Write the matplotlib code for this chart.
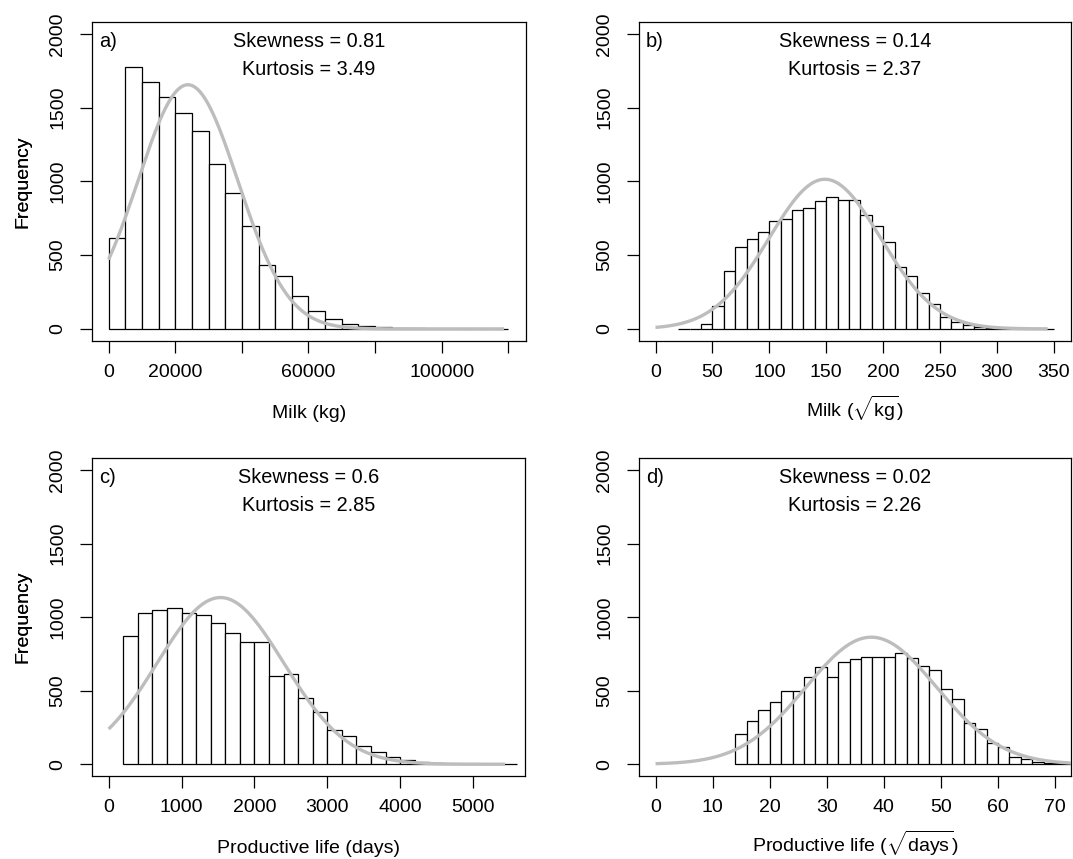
import numpy as np
import matplotlib.pyplot as plt

plt.rcParams['font.family'] = ['Liberation Sans', 'DejaVu Sans']
plt.rcParams['mathtext.fontset'] = 'custom'
plt.rcParams['mathtext.rm'] = 'Liberation Sans'
plt.rcParams['mathtext.it'] = 'Liberation Sans:italic'

# ===== DATA ===========================================
# a) milk, kg
milk_start, milk_width = 0, 5000
milk_counts = [615, 1775, 1671, 1570, 1462, 1342, 1119, 923, 696, 435, 356, 221,
               119, 65, 32, 20, 10, 5, 3, 2, 1, 1, 0, 1]
milk_mean, milk_sd, milk_max = 23800, 15000, 118700

# b) milk, sqrt(kg)
smilk_start, smilk_width = 20, 10
smilk_counts = [0, 0, 30, 158, 390, 552, 608, 660, 732, 748, 804, 822, 867, 894,
                876, 876, 775, 696, 586, 419, 360, 245, 167, 83, 50, 27, 15, 8,
                4, 2, 1, 1, 0]
smilk_mean, smilk_sd, smilk_max = 148.8, 49.0, 344.5

# c) productive life, days
life_start, life_width = 200, 200
life_counts = [875, 1031, 1050, 1065, 1031, 1013, 959, 895, 832, 832, 603, 612,
               451, 358, 233, 195, 125, 86, 52, 29, 14, 7, 4, 2, 1, 1, 1]
life_mean, life_sd, life_max = 1534, 870, 5439

# d) productive life, sqrt(days)
slife_start, slife_width = 14, 2
slife_counts = [206, 297, 370, 424, 497, 497, 596, 660, 596, 694, 714, 730, 730,
                730, 759, 721, 669, 641, 510, 444, 279, 242, 143, 116, 52, 34,
                18, 10, 5, 2]
slife_mean, slife_sd, slife_max = 37.8, 11.44, 73.75

panels = [
    dict(tag="a)", skew="0.81", kurt="3.49", start=milk_start, width=milk_width,
         counts=milk_counts, mean=milk_mean, sd=milk_sd, xmax=milk_max,
         xlim=(-4900, 125300), xticks=np.arange(0, 120001, 20000),
         xticklabels=["0", "20000", "", "60000", "", "100000", ""],
         xlabel="Milk (kg)", xlab_y=-0.228),
    dict(tag="b)", skew="0.14", kurt="2.37", start=smilk_start, width=smilk_width,
         counts=smilk_counts, mean=smilk_mean, sd=smilk_sd, xmax=smilk_max,
         xlim=(-14.5, 365), xticks=np.arange(0, 351, 50), xticklabels=None,
         xlabel=r"Milk ($\sqrt{\mathrm{kg}}$)", xlab_y=-0.212),
    dict(tag="c)", skew="0.6", kurt="2.85", start=life_start, width=life_width,
         counts=life_counts, mean=life_mean, sd=life_sd, xmax=life_max,
         xlim=(-225, 5717), xticks=np.arange(0, 5001, 1000), xticklabels=None,
         xlabel="Productive life (days)", xlab_y=-0.228),
    dict(tag="d)", skew="0.02", kurt="2.26", start=slife_start, width=slife_width,
         counts=slife_counts, mean=slife_mean, sd=slife_sd, xmax=slife_max,
         xlim=(-2.9, 72.8), xticks=np.arange(0, 71, 10), xticklabels=None,
         xlabel=r"Productive life ($\sqrt{\mathrm{days}}$)", xlab_y=-0.212),
]

# axes boxes in pixels: left, top, right, bottom
W, H = 1073, 859
boxes = [(92.3, 22, 526, 340.7), (639, 22, 1071, 340.7),
         (92.3, 458.3, 525.3, 776), (639, 458.3, 1071, 776)]

fig = plt.figure(figsize=(W / 100, H / 100), dpi=100)

for p, (l, t, r, b) in zip(panels, boxes):
    ax = fig.add_axes([l / W, 1 - b / H, (r - l) / W, (b - t) / H])
    counts = np.array(p["counts"], dtype=float)
    lefts = p["start"] + p["width"] * np.arange(len(counts))
    ax.bar(lefts, counts, width=p["width"], align="edge", facecolor="white",
           edgecolor="black", linewidth=0.9, zorder=2)

    # normal curve scaled to counts
    n = counts.sum()
    xs = np.linspace(0, p["xmax"], 400)
    ys = n * p["width"] / (p["sd"] * np.sqrt(2 * np.pi)) * \
        np.exp(-0.5 * ((xs - p["mean"]) / p["sd"]) ** 2)
    ax.plot(xs, ys, color="#bdbdbd", linewidth=2.4, zorder=3,
            solid_capstyle="butt")

    ax.set_xlim(*p["xlim"])
    ax.set_ylim(-80, 2080)
    ax.set_yticks([0, 500, 1000, 1500, 2000])
    ax.set_xticks(p["xticks"])
    if p["xticklabels"] is not None:
        ax.set_xticklabels(p["xticklabels"])

    ax.tick_params(direction="out", length=8.6, width=0.9, labelsize=14,
                   color="black")
    ax.tick_params(axis="x", pad=8)
    ax.tick_params(axis="y", pad=10)
    plt.setp(ax.get_yticklabels(), rotation=90, va="center")
    for s in ax.spines.values():
        s.set_linewidth(0.9)

    ax.set_ylabel("Frequency", fontsize=14)
    ax.yaxis.label.set_va("center")
    ax.yaxis.set_label_coords((23 - l) / (r - l), 0.5)
    ax.set_xlabel(p["xlabel"], fontsize=14)
    ax.xaxis.label.set_va("center")
    ax.xaxis.set_label_coords(0.5, p["xlab_y"])

    ax.text(0.016, 0.94, p["tag"], transform=ax.transAxes, ha="left",
            va="center", fontsize=14.5)
    ax.text(0.5, 0.94, "Skewness = " + p["skew"], transform=ax.transAxes,
            ha="center", va="center", fontsize=14.3)
    ax.text(0.5, 0.85, "Kurtosis = " + p["kurt"], transform=ax.transAxes,
            ha="center", va="center", fontsize=14.3)

fig.savefig("out.png", dpi=100)
